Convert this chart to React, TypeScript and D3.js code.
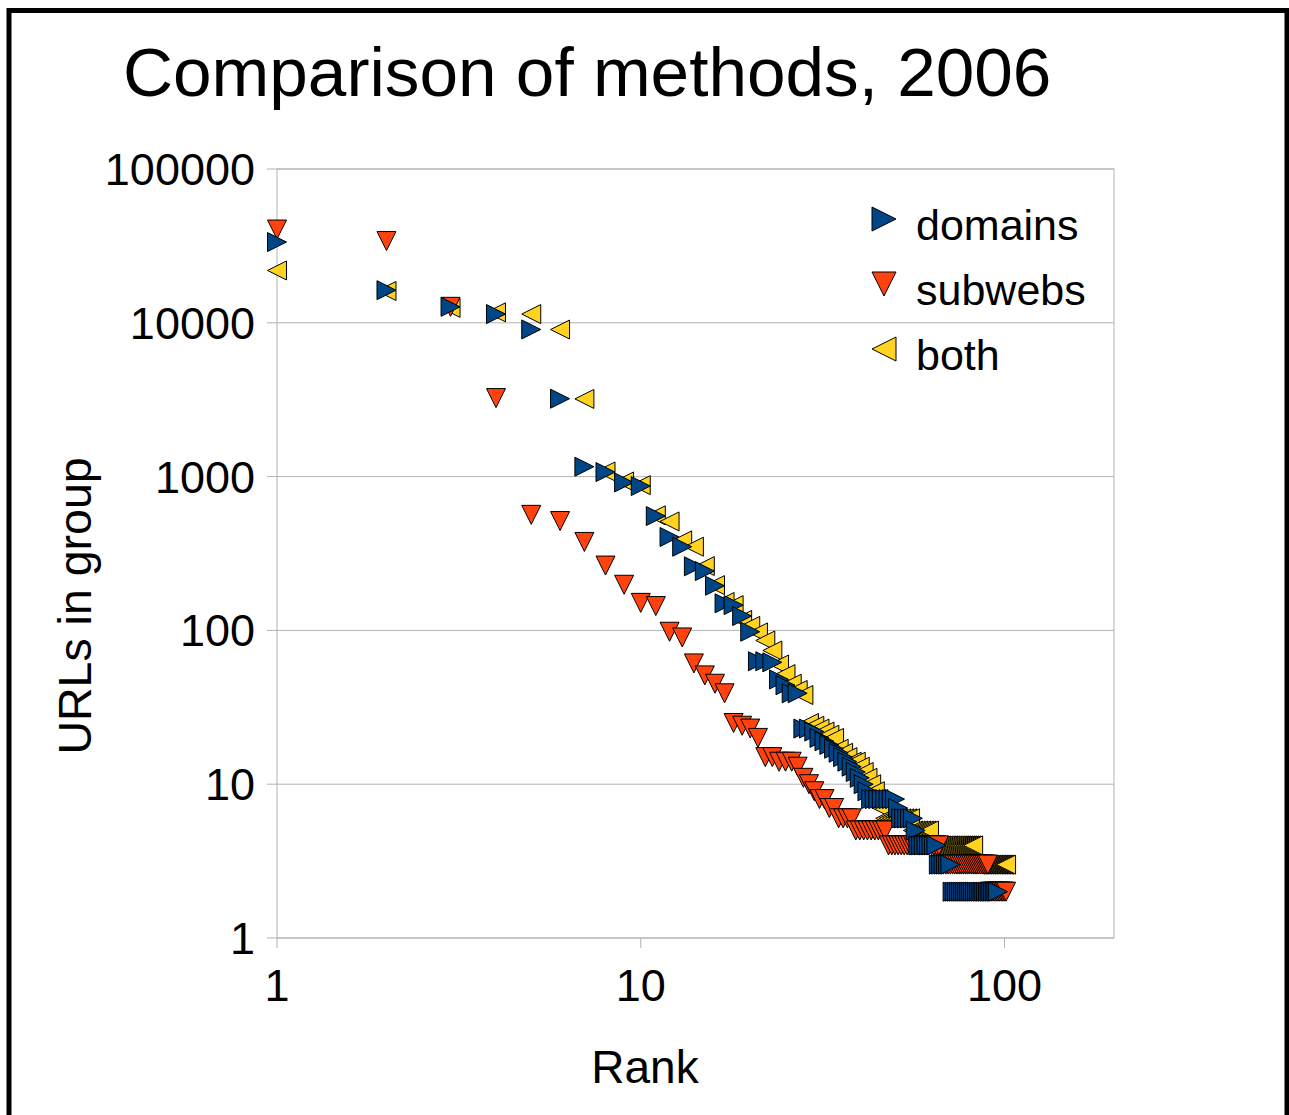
import React from "react";
import * as d3 from "d3";

// ---- data ----
const domains = [
  33500, 16300, 12700, 11400, 9050, 3210, 1160, 1070, 916, 868,
  554, 405, 350, 261, 243, 195, 150, 146, 124, 98,
  63, 63, 62, 48, 44, 39, 39, 23, 23, 22,
  20, 19, 18, 17, 16, 15, 14, 13, 12, 11,
  10, 9, 8, 8, 8, 8, 8, 8, 8, 8,
  7, 6, 6, 6, 6, 6, 5, 4, 4, 4,
  4, 4, 4, 4, 4, 3, 3, 3, 3, 3,
  3, 2, 2, 2, 2, 2, 2, 2, 2, 2,
  2, 2, 2, 2, 2, 2, 2, 2, 2, 2,
  2, 2, 2, 2, 2, 2,
];

const subwebs = [
  40400, 34000, 12700, 3240, 564, 514, 376, 264, 198, 151,
  144, 98, 90, 61, 51, 45, 39, 25, 24, 23,
  20, 15, 15, 14, 14, 14, 13, 11, 10, 9,
  8, 8, 7, 7, 6, 6, 6, 6, 5, 5,
  5, 5, 5, 5, 5, 5, 5, 4, 4, 4,
  4, 4, 4, 4, 4, 4, 4, 4, 4, 4,
  4, 4, 4, 4, 4, 4, 3, 3, 3, 3,
  3, 3, 3, 3, 3, 3, 3, 3, 3, 3,
  3, 3, 3, 3, 3, 3, 3, 3, 3, 3,
  2, 2, 2, 2, 2, 2, 2, 2, 2, 2,
  2,
];

const both = [
  21900, 16100, 12500, 11700, 11400, 9040, 3200, 1080, 930, 880,
  560, 511, 385, 350, 262, 197, 153, 146, 117, 107,
  97, 86, 74, 60, 52, 45, 41, 38, 25, 24,
  23, 22, 21, 20, 17, 16, 15, 14, 14, 13,
  12, 11, 10, 9, 8, 7, 6, 6, 6, 6,
  6, 6, 6, 6, 6, 5, 5, 5, 5, 5,
  5, 5, 4, 4, 4, 4, 4, 4, 4, 4,
  4, 4, 4, 4, 4, 4, 4, 4, 4, 4,
  4, 4, 3, 3, 3, 3, 3, 3, 3, 3,
  3, 3, 3, 3, 3, 3, 3, 3, 3, 3,
  3,
];

const yTicks = [1, 10, 100, 1000, 10000, 100000];
const xTicks = [1, 10, 100];
const seriesNames = ["domains", "subwebs", "both"];
const seriesColors = ["#004586", "#ff420e", "#ffd320"];

const FONT = "'Liberation Sans', Arial, sans-serif";
const GRID = "#b3b3b3";

type Shape = "right" | "down" | "left";

function tri(shape: Shape, cx: number, cy: number, h: number): string {
  if (shape === "right")
    return `M${cx - h},${cy - h}L${cx + h},${cy}L${cx - h},${cy + h}Z`;
  if (shape === "down")
    return `M${cx - h},${cy - h}L${cx + h},${cy - h}L${cx},${cy + h}Z`;
  return `M${cx + h},${cy - h}L${cx - h},${cy}L${cx + h},${cy + h}Z`;
}

export default function App() {
  const left = 277, right = 1114, top = 169, bottom = 938;
  const x = d3.scaleLog().domain([1, 200]).range([left, right]);
  const y = d3.scaleLog().domain([1, 100000]).range([bottom, top]);

  const series: { name: string; data: number[]; color: string; shape: Shape }[] = [
    { name: seriesNames[0], data: domains, color: seriesColors[0], shape: "right" },
    { name: seriesNames[1], data: subwebs, color: seriesColors[1], shape: "down" },
    { name: seriesNames[2], data: both, color: seriesColors[2], shape: "left" },
  ];
  // draw order: both, subwebs, domains (domains on top)
  const drawOrder = [series[2], series[1], series[0]];
  const ms = 9.5;

  return (
    <svg
      width={1289}
      height={1115}
      style={{ position: "absolute", left: 0, top: 0, background: "#fff" }}
      fontFamily={FONT}
    >
      <rect x={0} y={0} width={1289} height={1115} fill="#fff" />
      <rect x={9} y={10.5} width={1278} height={1130} fill="none" stroke="#000" strokeWidth={5} />

      <text x={123} y={96} fontSize={69.3} fill="#000">
        Comparison of methods, 2006
      </text>

      {/* grid */}
      {yTicks.map((t) => (
        <line key={"g" + t} x1={left - 10} x2={right} y1={y(t)} y2={y(t)} stroke={GRID} strokeWidth={1} />
      ))}
      <rect x={left} y={top} width={right - left} height={bottom - top} fill="none" stroke={GRID} strokeWidth={1} />
      {xTicks.map((t) => (
        <line key={"xt" + t} x1={x(t)} x2={x(t)} y1={bottom} y2={bottom + 10} stroke={GRID} strokeWidth={1} />
      ))}

      {/* tick labels */}
      {yTicks.map((t) => (
        <text key={"yl" + t} x={255} y={y(t) + 16} fontSize={45} textAnchor="end" fill="#000">
          {String(t)}
        </text>
      ))}
      {xTicks.map((t) => (
        <text key={"xl" + t} x={x(t)} y={1001} fontSize={45} textAnchor="middle" fill="#000">
          {String(t)}
        </text>
      ))}

      {/* axis titles */}
      <text x={645} y={1083} fontSize={46} textAnchor="middle" fill="#000">
        Rank
      </text>
      <text
        transform={`translate(91,606) rotate(-90)`}
        fontSize={46.5}
        textAnchor="middle"
        fill="#000"
      >
        URLs in group
      </text>

      {/* markers */}
      {drawOrder.map((s) => (
        <g key={s.name}>
          {s.data.map((v, i) => (
            <path
              key={i}
              d={tri(s.shape, x(i + 1), y(v), ms)}
              fill={s.color}
              stroke="#000"
              strokeWidth={1}
            />
          ))}
        </g>
      ))}

      {/* legend */}
      {series.map((s, i) => {
        const cy = 219 + i * 65;
        return (
          <g key={"lg" + s.name}>
            <path d={tri(s.shape, 884, cy, 12)} fill={s.color} stroke="#000" strokeWidth={1} />
            <text x={916} y={cy + 21} fontSize={43} fill="#000">
              {s.name}
            </text>
          </g>
        );
      })}
    </svg>
  );
}
